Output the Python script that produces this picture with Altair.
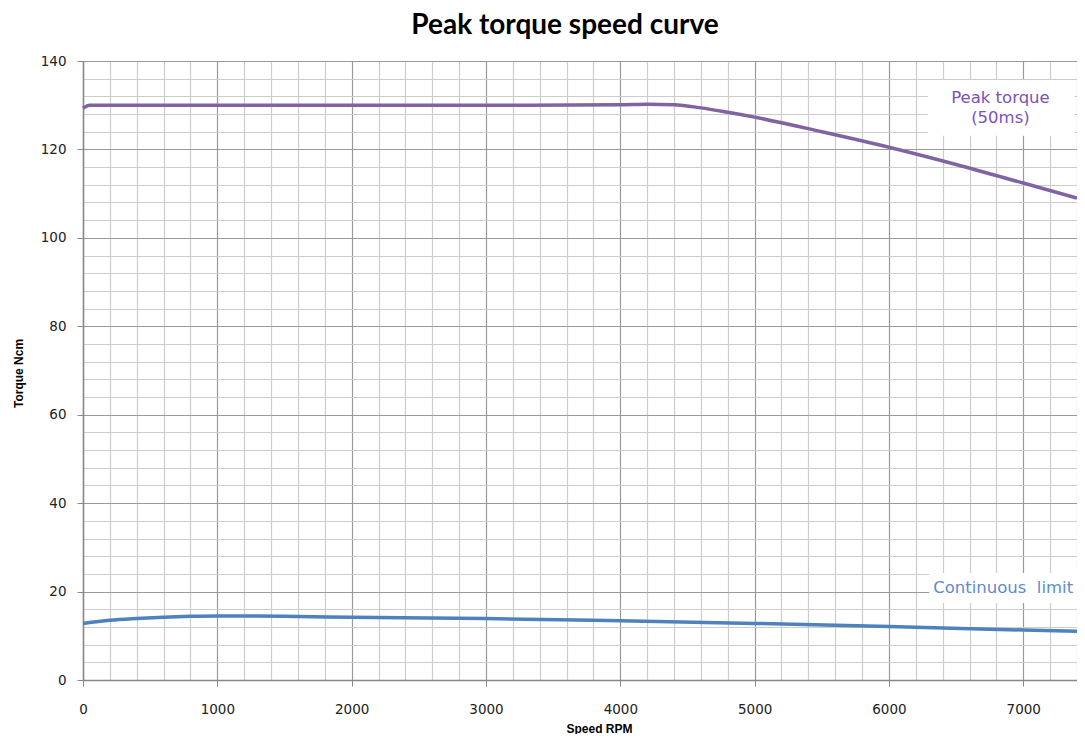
import altair as alt
import pandas as pd

# Peak torque curve (Ncm) vs speed (RPM)
peak_speed = [0, 50, 100, 500, 1000, 2000, 3000, 4000, 4200, 4400, 4600, 4800, 5000, 5500, 6000, 6500, 7000, 7400]
peak_torque = [129.3, 130.0, 130.0, 130.0, 130.0, 130.0, 130.0, 130.1, 130.2, 130.1, 129.4, 128.4, 127.3, 124.0, 120.5, 116.6, 112.4, 109.0]

# Continuous limit curve
cont_speed = [0, 200, 400, 600, 800, 1000, 1500, 2000, 3000, 4000, 5000, 6000, 7000, 7400]
cont_torque = [12.8, 13.5, 13.9, 14.2, 14.4, 14.5, 14.4, 14.2, 13.9, 13.4, 12.8, 12.1, 11.3, 11.0]

# tick positions
x_ticks = list(range(0, 7401, 200))
y_ticks = list(range(0, 141, 4))

X_MAX = 7400
Y_MAX = 140

peak_df = pd.DataFrame({"speed": peak_speed, "torque": peak_torque})
cont_df = pd.DataFrame({"speed": cont_speed, "torque": cont_torque})

# annotation boxes (data coordinates)
box_df = pd.DataFrame({
    "x1": [6290, 6300], "x2": [7380, 7400],
    "y1": [123.1, 17.4], "y2": [135.7, 24.2],
})
label_df = pd.DataFrame({
    "x": [6830, 6830, 6850],
    "y": [131.7, 127.1, 20.8],
    "text": ["Peak torque", "(50ms)", "Continuous\u00a0 limit"],
    "color": ["#7B52B9", "#7B52B9", "#5B8BD0"],
})

xscale = alt.Scale(domain=[0, X_MAX], nice=False, zero=False)
yscale = alt.Scale(domain=[0, Y_MAX], nice=False)

xaxis = alt.Axis(
    values=x_ticks,
    tickCount=200,
    labelExpr="datum.value % 1000 === 0 ? datum.label : ''",
    format="d",
    labelOverlap=False,
    labelFlush=False,
    grid=True,
    gridColor={"condition": {"test": "datum.value % 1000 === 0", "value": "#9a9a9a"}, "value": "#cccccc"},
    gridWidth=1.2,
    tickOpacity={"condition": {"test": "datum.value % 1000 === 0", "value": 1}, "value": 0},
    tickColor="#888888",
    tickSize=6,
    labelPadding=16,
    labelFont="DejaVu Sans",
    labelFontSize=13.5,
    labelColor="#222222",
    domainColor="#888888",
    domainWidth=1.5,
    title="Speed RPM",
    titleFont="Liberation Sans",
    titleFontWeight="bold",
    titleFontSize=12,
    titleColor="#000000",
    titleX=516,
    titleY=48,
    titleBaseline="middle",
)

yaxis = alt.Axis(
    values=y_ticks,
    tickCount=200,
    format="d",
    labelExpr="datum.value % 20 === 0 ? datum.label : ''",
    labelOverlap=False,
    labelFlush=False,
    grid=True,
    gridColor={"condition": {"test": "datum.value % 20 === 0", "value": "#9a9a9a"}, "value": "#cccccc"},
    gridWidth=1.2,
    tickOpacity={"condition": {"test": "datum.value % 20 === 0", "value": 1}, "value": 0},
    tickColor="#888888",
    tickSize=6,
    labelPadding=11,
    labelFont="DejaVu Sans",
    labelFontSize=13.5,
    labelColor="#222222",
    domainColor="#888888",
    domainWidth=1.5,
    title="Torque Ncm",
    titleFont="Liberation Sans",
    titleFontWeight="bold",
    titleFontSize=12,
    titleColor="#000000",
    titleX=-65,
    titleY=312,
    titleAngle=-90,
    titleBaseline="middle",
)

peak_line = alt.Chart(peak_df).mark_line(
    color="#8064A2", strokeWidth=3.5, interpolate="monotone"
).encode(
    x=alt.X("speed:Q", scale=xscale, axis=xaxis),
    y=alt.Y("torque:Q", scale=yscale, axis=yaxis),
)

cont_line = alt.Chart(cont_df).mark_line(
    color="#4F81BD", strokeWidth=3.5, interpolate="monotone"
).encode(
    x=alt.X("speed:Q", scale=xscale),
    y=alt.Y("torque:Q", scale=yscale),
)

boxes = alt.Chart(box_df).mark_rect(color="white").encode(
    x=alt.X("x1:Q", scale=xscale), x2="x2:Q",
    y=alt.Y("y1:Q", scale=yscale), y2="y2:Q",
)

labels = alt.Chart(label_df).mark_text(
    font="DejaVu Sans", fontSize=16.5, align="center", baseline="middle"
).encode(
    x=alt.X("x:Q", scale=xscale),
    y=alt.Y("y:Q", scale=yscale),
    text="text:N",
    color=alt.Color("color:N", scale=None),
)

chart = alt.layer(boxes, cont_line, peak_line, labels).properties(
    width=994,
    height=619,
    title=alt.TitleParams(
        "Peak torque speed curve",
        font="Lato", fontSize=28, fontWeight="bold", color="#000000",
        anchor="middle", dx=-15, offset=14,
    ),
    autosize=alt.AutoSizeParams(type="none"),
    padding={"left": 75, "top": 53, "right": 0, "bottom": 54},
).configure_view(stroke=None).configure(background="white")

chart.save("out.html", embed_options={"renderer": "svg", "actions": False})
